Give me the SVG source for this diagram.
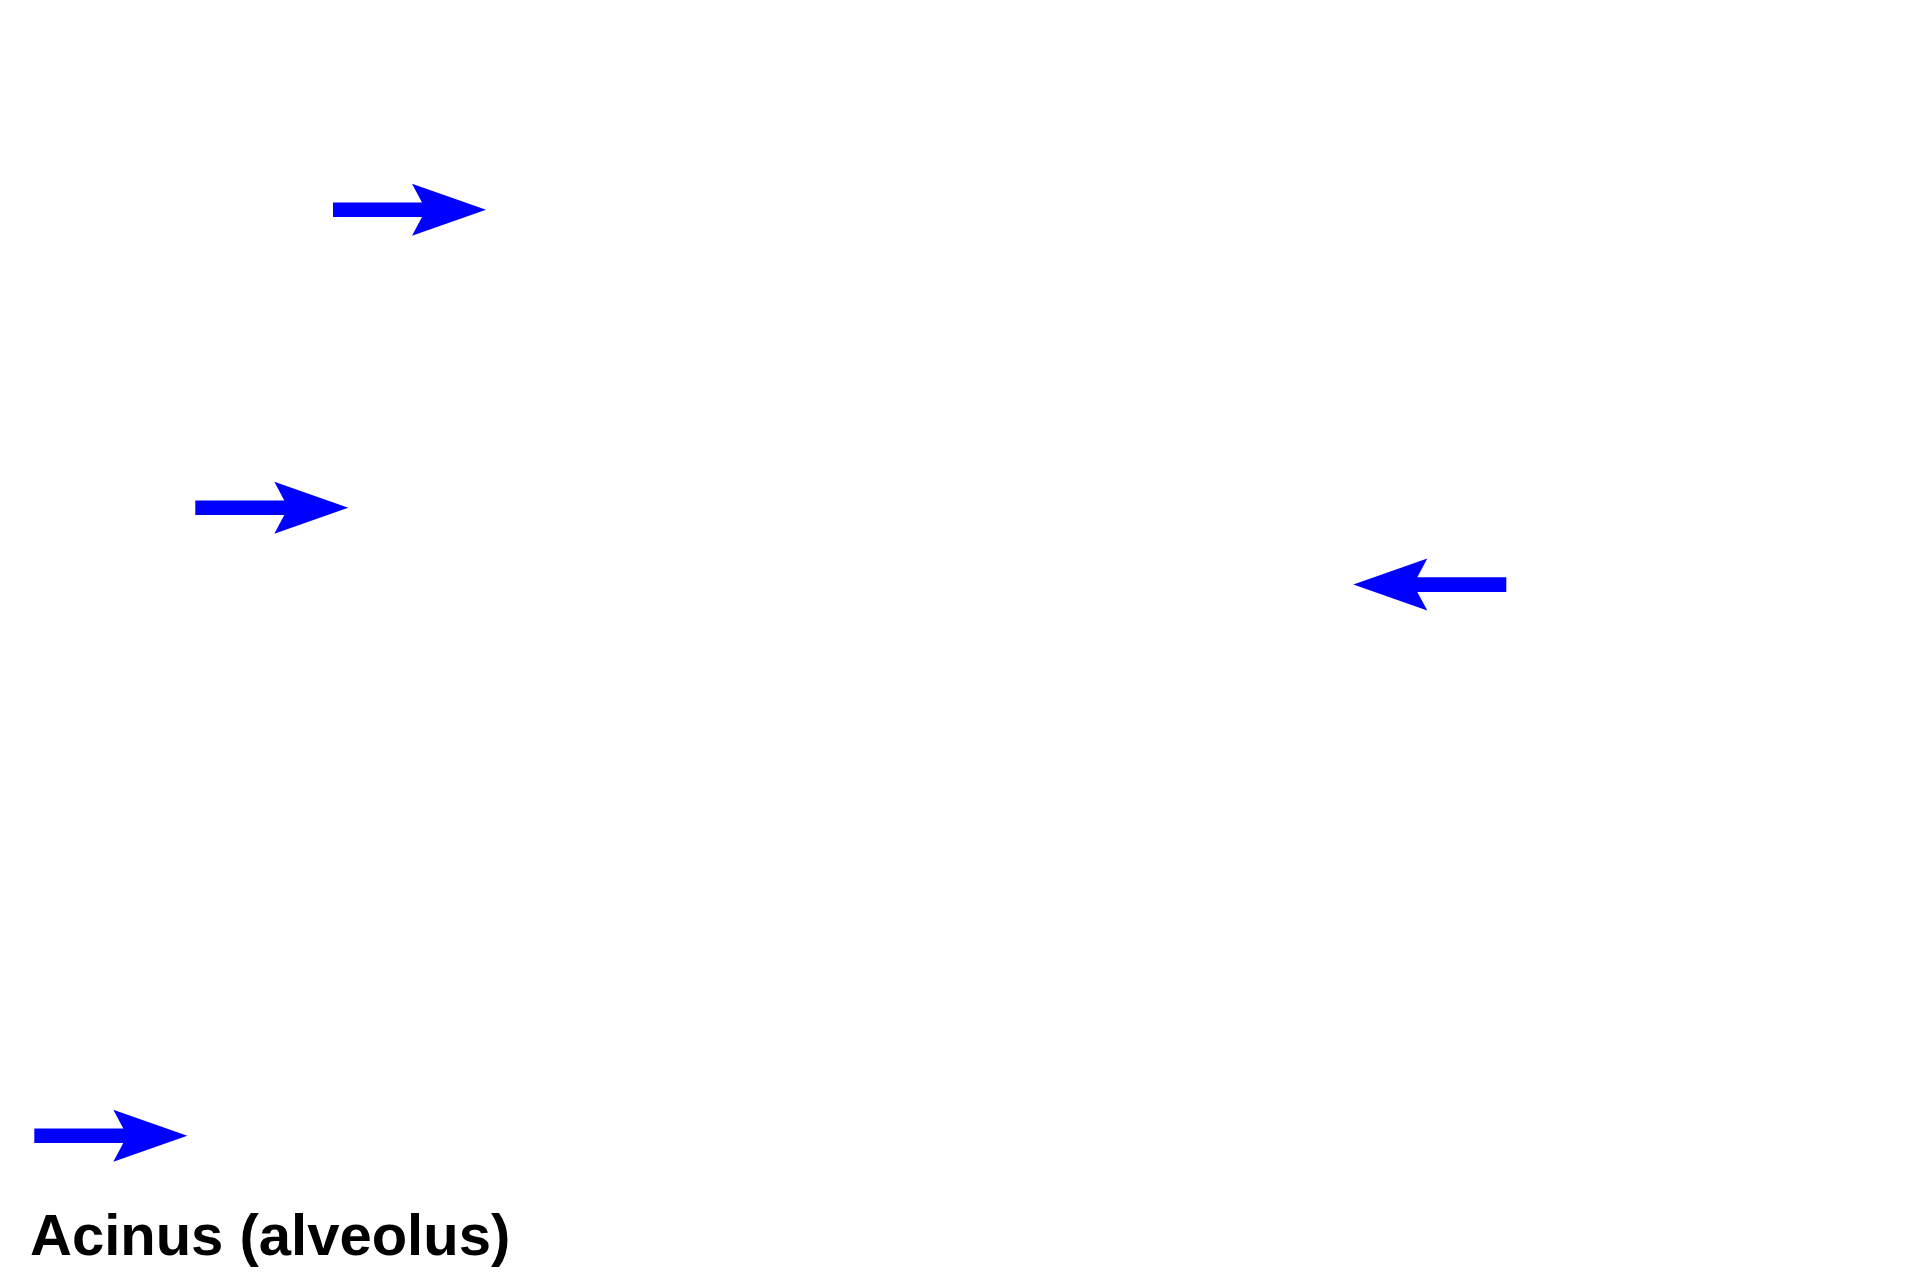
<svg xmlns="http://www.w3.org/2000/svg" xmlns:xlink="http://www.w3.org/1999/xlink" width="1920" height="1280" viewBox="0 0 1920 1280">
  <style>
    .arrow { fill: #0000ff; stroke: none; }
    .label { font-family: "Liberation Sans", Arial, sans-serif; font-weight: bold; font-size: 58px; fill: #000000; }
  </style>
  <defs>
    <path id="arrowShape" d="M0,0 L-74,-26 L-64,-7.3 L-153,-7.3 L-153,7.3 L-64,7.3 L-74,26 Z"/>
  </defs>
  <rect x="0" y="0" width="1920" height="1280" fill="#ffffff"/>
  <g id="connectors">
    <use id="arrow1" class="arrow" xlink:href="#arrowShape" href="#arrowShape" transform="translate(486,209.7)"/>
    <use id="arrow2" class="arrow" xlink:href="#arrowShape" href="#arrowShape" transform="translate(348.3,507.7)"/>
    <use id="arrow3" class="arrow" xlink:href="#arrowShape" href="#arrowShape" transform="translate(1353.3,584.6) scale(-1,1)"/>
    <use id="arrow4" class="arrow" xlink:href="#arrowShape" href="#arrowShape" transform="translate(187.3,1135.7)"/>
  </g>
  <g id="label-acinus">
    <text class="label" x="30" y="1255">Acinus (alveolus)</text>
  </g>
</svg>
